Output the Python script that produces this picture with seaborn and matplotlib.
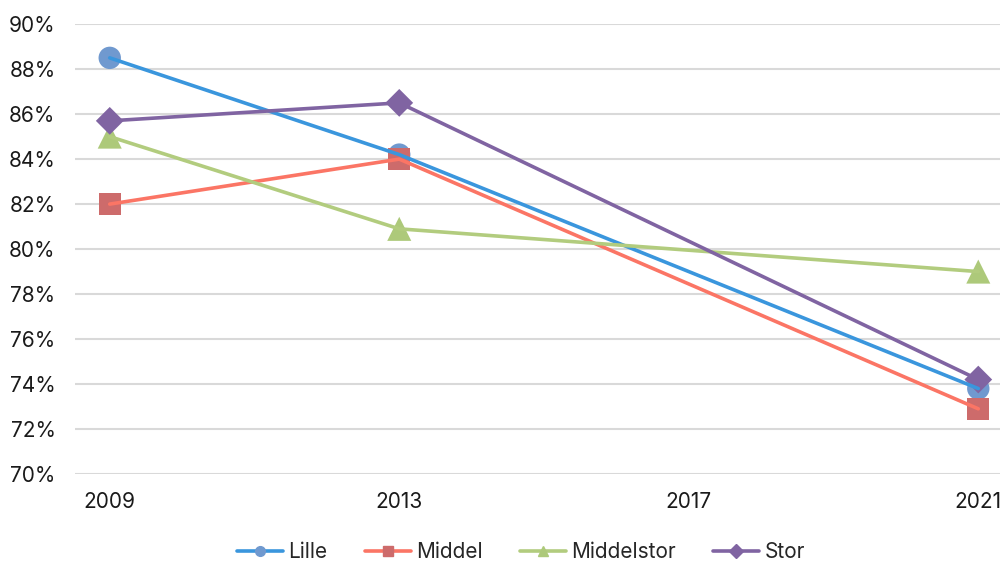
import pandas as pd
import matplotlib.pyplot as plt
import seaborn as sns
from matplotlib.lines import Line2D
from matplotlib.ticker import FuncFormatter

years = [2009, 2013, 2021]
tick_years = [2009, 2013, 2017, 2021]
lille = [88.5, 84.2, 73.8]
middel = [82.0, 84.0, 72.9]
middelstor = [85.0, 80.9, 79.0]
stor = [85.7, 86.5, 74.2]

series = ["Lille", "Middel", "Middelstor", "Stor"]
line_colors = {"Lille": "#3a96dd", "Middel": "#fb7565", "Middelstor": "#b2cc7e", "Stor": "#8064a2"}
marker_colors = {"Lille": "#7099cf", "Middel": "#cd6b6b", "Middelstor": "#adc97a", "Stor": "#8064a2"}
markers = {"Lille": "o", "Middel": "s", "Middelstor": "^", "Stor": "D"}
marker_sizes = {"Lille": 260, "Middel": 260, "Middelstor": 300, "Stor": 200}


def main():
    df = pd.DataFrame({
        "year": years * 4,
        "value": lille + middel + middelstor + stor,
        "series": [s for s in series for _ in years],
    })

    sns.set_theme(style="white")
    plt.rcParams['font.family'] = ['Inter', 'DejaVu Sans']

    fig = plt.figure(figsize=(10, 5.61), dpi=100)
    ax = fig.add_axes([0.075, 0.155, 0.925, 0.802])

    # markers under the lines, like the original
    for s in series:
        sub = df[df["series"] == s]
        sns.scatterplot(data=sub, x="year", y="value", ax=ax, marker=markers[s],
                        color=marker_colors[s], s=marker_sizes[s],
                        edgecolor="none", zorder=2, legend=False)
    sns.lineplot(data=df, x="year", y="value", hue="series", palette=line_colors,
                 linewidth=2.6, ax=ax, zorder=3, legend=False)

    ax.set_xlim(2008.52, 2021.3)
    ax.set_ylim(70, 90)
    ax.set_yticks(range(70, 91, 2))
    ax.set_xticks(tick_years)
    ax.yaxis.set_major_formatter(FuncFormatter(lambda v, p: f"{int(v)}%"))
    ax.grid(axis="y", color="#d9d9d9", linewidth=1.5)
    ax.set_axisbelow(True)
    for sp in ax.spines.values():
        sp.set_visible(False)
    ax.tick_params(axis="both", labelsize=15, colors="#1a1a1a", length=0)
    ax.tick_params(axis="x", pad=13)
    ax.tick_params(axis="y", pad=14)
    ax.set_xlabel("")
    ax.set_ylabel("")

    handles = [Line2D([0], [0], color=line_colors[s], lw=2.6, marker=markers[s],
                      markersize=7 if s != "Middelstor" else 6.5,
                      markerfacecolor=marker_colors[s], markeredgecolor=marker_colors[s])
               for s in series]
    fig.legend(handles, series, loc="center", bbox_to_anchor=(0.521, 0.016), ncol=4,
               frameon=False, fontsize=15, handlelength=2.2, columnspacing=1.8,
               handletextpad=0.25)

    plt.savefig("out.png", dpi=100)


if __name__ == "__main__":
    main()
